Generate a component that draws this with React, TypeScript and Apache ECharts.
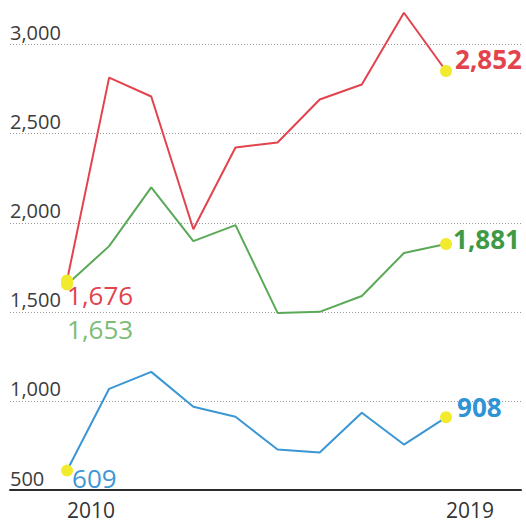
import React, { useEffect, useRef } from "react";
import * as echarts from "echarts";

const years = [2010, 2011, 2012, 2013, 2014, 2015, 2016, 2017, 2018, 2019];
const redValues = [1676, 2815, 2709, 1964, 2423, 2451, 2692, 2776, 3179, 2852];
const greenValues = [1653, 1869, 2199, 1897, 1987, 1494, 1500, 1589, 1830, 1881];
const blueValues = [609, 1068, 1163, 967, 911, 727, 710, 934, 755, 908];
const xLabelYears = [2010, 2019];
const yTickValues = [500, 1000, 1500, 2000, 2500, 3000];
const yMin = 500;
const yMax = 3200;
const yStep = 500;

const FONT = "'Open Sans', 'Noto Sans', sans-serif";
const DOT = "#f2ea2c";
const GRID = "#9a9a9a";

function fmt(v: number) {
  return v.toLocaleString("en-US");
}

function makeSeries(
  name: string,
  values: number[],
  lineColor: string,
  startLabel: any,
  endLabel: any,
  z: number
) {
  return {
    type: "line",
    name,
    z,
    silent: true,
    symbol: "circle",
    symbolSize: 12,
    showSymbol: true,
    lineStyle: { width: 2, color: lineColor },
    itemStyle: { color: DOT },
    data: values.map((v, i) => {
      const first = i === 0;
      const last = i === values.length - 1;
      if (!first && !last) return { value: [years[i], v], symbol: "none" };
      return {
        value: [years[i], v],
        label: {
          show: true,
          fontFamily: FONT,
          fontSize: 26,
          align: "left",
          verticalAlign: "middle",
          formatter: (p: any) => fmt(p.value[1]),
          ...(first ? startLabel : endLabel),
        },
      };
    }),
  };
}

export default function App() {
  const ref = useRef<HTMLDivElement>(null);
  useEffect(() => {
    document.body.style.margin = "0";
    const chart = echarts.init(ref.current!, undefined, { renderer: "svg" });
    chart.setOption({
      animation: false,
      backgroundColor: "#ffffff",
      grid: { left: 10, right: 5, top: 9, bottom: 34, containLabel: false },
      xAxis: {
        type: "value",
        min: 2008.646,
        max: 2020.78,
        axisLine: { show: true, lineStyle: { color: "#2b2b2b", width: 2 } },
        axisTick: { show: false },
        splitLine: { show: false },
        axisLabel: {
          customValues: xLabelYears,
          formatter: (v: number) => String(v),
          align: "left",
          margin: 9,
          fontFamily: FONT,
          fontSize: 21,
          color: "#333333",
        },
      },
      yAxis: {
        type: "value",
        min: yMin,
        max: yMax,
        interval: yStep,
        axisLine: { show: false },
        axisTick: { show: false },
        splitLine: {
          show: true,
          lineStyle: {
            color: [GRID, GRID, GRID, GRID, GRID, GRID, "rgba(0,0,0,0)"],
            type: [1, 2],
            width: 1,
          },
        },
        axisLabel: {
          inside: true,
          margin: 0,
          align: "left",
          verticalAlign: "bottom",
          padding: [0, 0, 2, 0],
          fontFamily: FONT,
          fontSize: 20,
          color: "#3c3c3c",
          formatter: (v: number) => (yTickValues.includes(v) ? fmt(v) : ""),
        },
      },
      series: [
        makeSeries(
          "red",
          redValues,
          "#e2434c",
          { position: [6, 21], color: "#e2434c" },
          { position: [15, -6], color: "#e2434c", fontWeight: "bold" },
          4
        ),
        makeSeries(
          "green",
          greenValues,
          "#5aa957",
          { position: [6, 50], color: "#7cbc78" },
          { position: [13, 1], color: "#3f9a45", fontWeight: "bold" },
          3
        ),
        makeSeries(
          "blue",
          blueValues,
          "#3a96d4",
          { position: [11, 13], color: "#3f97d6" },
          { position: [17, -4], color: "#2f93d6", fontWeight: "bold" },
          2
        ),
      ],
    });
    return () => chart.dispose();
  }, []);
  return (
    <div
      ref={ref}
      style={{ position: "fixed", left: 0, top: 0, width: 526, height: 524, background: "#fff" }}
    />
  );
}
